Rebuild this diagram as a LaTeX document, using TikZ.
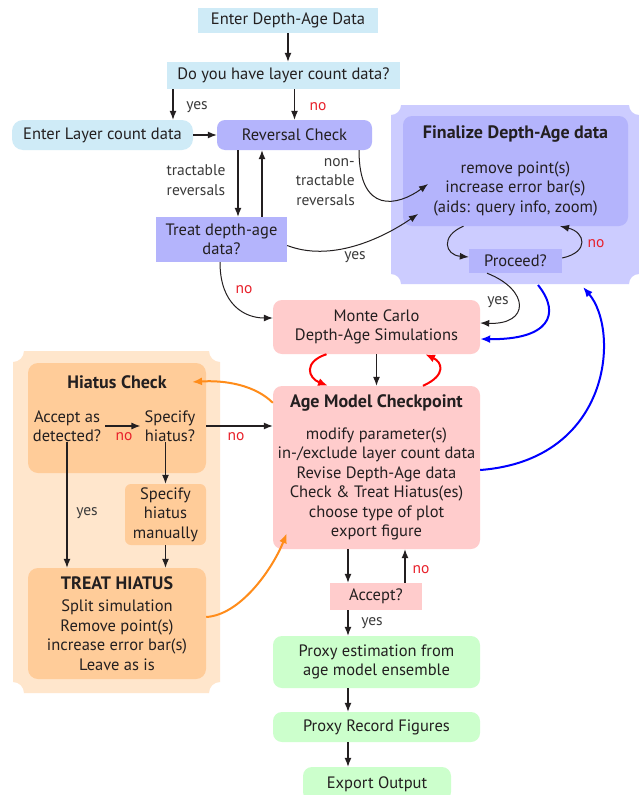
\documentclass[tikz,border=0pt]{standalone}
\usepackage{fontspec}
\setmainfont{PT Sans}
\usetikzlibrary{arrows.meta}
\definecolor{ink}{HTML}{231F20}
\definecolor{labgray}{HTML}{3A3A3A}
\definecolor{nored}{HTML}{E8202A}
\definecolor{inblue}{HTML}{CFEBF7}
\definecolor{lav}{HTML}{B4B4FC}
\definecolor{lavpanel}{HTML}{CCCCFF}
\definecolor{simpink}{HTML}{FFCCCC}
\definecolor{outgreen}{HTML}{CCFFCC}
\definecolor{peach}{HTML}{FFE6CC}
\definecolor{apricot}{HTML}{FFCC99}
\definecolor{hiorange}{HTML}{FF8C1A}
\newcommand\boxtitle[1]{{\fontsize{18}{21}\selectfont\bfseries #1}}

\begin{document}
\begin{tikzpicture}[x=1pt,y=-1pt,font=\fontsize{16.5}{19.5}\selectfont,
  every node/.style={text=ink,inner sep=0pt,align=center},
  con/.style={-{Latex[length=9pt,width=7pt]},line width=1.2pt,ink},
  thin con/.style={-{Latex[length=9pt,width=7pt]},line width=1pt,ink},
  fat con/.style={-{Latex[length=10pt,width=8pt]},line width=2pt},
  lab/.style={font=\fontsize{15.5}{19.5}\selectfont,text=labgray},
  nolab/.style={lab,text=nored}]
\clip (0,0) rectangle (639,795);
\fill[white] (0,0) rectangle (639,795);

\fill[lavpanel] (391,115) arc[start angle=90,end angle=0,radius=10] -- (629,105)
  arc[start angle=180,end angle=90,radius=10] -- (639,274)
  arc[start angle=270,end angle=180,radius=10] -- (401,284)
  arc[start angle=0,end angle=-90,radius=10] -- cycle;
\fill[peach] (13,362) arc[start angle=90,end angle=0,radius=11] -- (209,351)
  arc[start angle=180,end angle=90,radius=11] -- (220,682)
  arc[start angle=270,end angle=180,radius=11] -- (24,693)
  arc[start angle=0,end angle=-90,radius=11] -- cycle;

\node[fill=inblue,minimum width=180,minimum height=25] (enter) at (288,20.5) {Enter Depth-Age Data};
\node[fill=inblue,minimum width=233,minimum height=27] (haslc) at (283.5,75.5) {Do you have layer count data?};
\node[fill=inblue,minimum width=181,minimum height=30,rounded corners=11] (enterlc) at (102.5,135) {Enter Layer count data};
\node[fill=lav,minimum width=155,minimum height=30,rounded corners=8] (revcheck) at (294.5,135) {Reversal Check};
\node[fill=lav,minimum width=131,minimum height=45] (treat) at (221.5,239.5) {Treat depth-age\\data?};
\node[fill=lav,minimum width=225,minimum height=110,rounded corners=9] (fin) at (515.5,171)
  {\boxtitle{Finalize Depth-Age data}\\[15pt] remove point(s)\\ increase error bar(s)\\ (aids: query info, zoom)};
\node[fill=lav,minimum width=93,minimum height=24] (proceed) at (515.5,261) {Proceed?};
\node[fill=simpink,minimum width=207,minimum height=54,rounded corners=9] (monte) at (376.5,327)
  {Monte Carlo\\ Depth-Age Simulations};
\node[fill=simpink,minimum width=207,minimum height=163,rounded corners=9] (agemodel) at (376.5,467.5)
  {\boxtitle{Age Model Checkpoint}\\[12pt] modify parameter(s)\\ in-/exclude layer count data\\
   Revise Depth-Age data\\ Check \& Treat Hiatus(es)\\ choose type of plot\\ export figure};
\node[fill=simpink,minimum width=92,minimum height=27] (accept) at (376,596.5) {Accept?};
\node[fill=outgreen,minimum width=207,minimum height=52,rounded corners=9] (proxy) at (376.5,662)
  {Proxy estimation from\\ age model ensemble};
\node[fill=outgreen,minimum width=207,minimum height=30,rounded corners=9] (record) at (376.5,727) {Proxy Record Figures};
\node[fill=outgreen,minimum width=148,minimum height=34,rounded corners=9] (export) at (377,784) {Export Output};

\node[fill=apricot,minimum width=178,minimum height=110,rounded corners=10] (hcheck) at (117,418) {};
\node (htitle) at (117,382) {\boxtitle{Hiatus Check}};
\node[inner xsep=4pt] (accdet) at (67,426) {Accept as\\ detected?};
\node[inner xsep=4pt] (spec) at (170,426) {Specify\\ hiatus?};
\node[fill=apricot,minimum width=81,minimum height=61,rounded corners=6] (manual) at (165.5,514.5) {Specify\\ hiatus\\ manually};
\node[fill=apricot,minimum width=178,minimum height=111,rounded corners=10] (treath) at (117,623.5)
  {\boxtitle{TREAT HIATUS}\\[3pt] Split simulation\\ Remove point(s)\\ increase error bar(s)\\ Leave as is};

\coordinate (finin) at (428,184);
\coordinate (finyes) at (418,214);

\draw[con] (enter.south) -- (enter.south |- haslc.north);
\draw[con] ([xshift=-110.5pt]haslc.south) -- ([xshift=70.5pt]enterlc.north);
\draw[con] (revcheck.north |- haslc.south) -- (revcheck.north);
\draw[con] (enterlc.east) -- (revcheck.west);
\draw[con] ([xshift=-56.5pt]revcheck.south) -- ([xshift=16.5pt]treat.north);
\draw[con] ([xshift=40.5pt]treat.north) -- ([xshift=-32.5pt]revcheck.south);
\draw[thin con] ([xshift=64.5pt]revcheck.south) .. controls (359,215) and (398,206) .. (finin);
\draw[thin con] ([yshift=-6pt]treat.east) .. controls (330,262) and (380,240) .. (finyes);
\draw[thin con] ([xshift=-1.5pt]treat.south) .. controls (220,305) and (245,318) .. ([yshift=9pt]monte.west);
\draw[thin con] ([xshift=-52pt]fin.south) .. controls (440,236) and (445,255) .. ([yshift=4pt]proceed.west);
\draw[thin con] ([yshift=3pt]proceed.east) .. controls (590,252) and (585,232) .. ([xshift=44.5pt]fin.south);
\draw[thin con] ([xshift=-28.5pt]proceed.south) .. controls (530,290) and (530,325) .. ([yshift=4pt]monte.east);
\draw[fat con,blue] (538,285) .. controls (562,315) and (548,340) .. ([yshift=-12pt]monte.east);
\draw[fat con,blue] ([yshift=-2.5pt]agemodel.east) .. controls (612,460) and (620,330) .. (583,287);
\draw[fat con,red] ([xshift=-50pt]monte.south) .. controls (303,362) and (308,378) .. ([xshift=-48.5pt]agemodel.north);
\draw[fat con,red] ([xshift=46.5pt]agemodel.north) .. controls (447,375) and (442,362) .. ([xshift=48.5pt]monte.south);
\draw[con] (monte.south) -- (agemodel.north);
\draw[con] ([xshift=-28.5pt]agemodel.south) -- ([xshift=-28pt]accept.north);
\draw[con] ([xshift=29pt]accept.north) -- ([xshift=28.5pt]agemodel.south);
\draw[con] ([xshift=-28pt]accept.south) -- ([xshift=-28.5pt]proxy.north);
\draw[con] ([xshift=-28.5pt]proxy.south) -- ([xshift=-28.5pt]record.north);
\draw[con] ([xshift=-28.5pt]record.south) -- ([xshift=-29pt]export.north);

\draw[con] (accdet.east) -- (spec.west);
\draw[con] (hcheck.east |- spec) -- (spec -| agemodel.west);
\draw[con] (accdet.south) -- (accdet.south |- treath.north);
\draw[con] (spec.south -| manual) -- (manual.north);
\draw[con] (manual.south) -- (manual.south |- treath.north);
\draw[fat con,hiorange] ([yshift=-17pt]agemodel.north west) .. controls (255,385) and (225,380) .. ([xshift=75pt]htitle.center);
\draw[fat con,hiorange] ([yshift=6.5pt]treath.east) .. controls (240,615) and (272,570) .. ([xshift=14pt,yshift=16pt]agemodel.south west);

\node[lab] at (197,107) {yes};
\node[nolab] at (318,107) {no};
\node[lab] at (196,180) {tractable\\ reversals};
\node[lab,align=right,anchor=east] at (355,182) {non-\\ tractable\\ reversals};
\node[lab] at (355,257) {yes};
\node[nolab] at (244,290) {no};
\node[nolab] at (596,244) {no};
\node[lab] at (498,302) {yes};
\node[nolab] at (124,437) {no};
\node[nolab] at (236,437) {no};
\node[lab] at (87,513) {yes};
\node[nolab] at (421,570) {no};
\node[lab] at (372,623) {yes};
\end{tikzpicture}
\end{document}
